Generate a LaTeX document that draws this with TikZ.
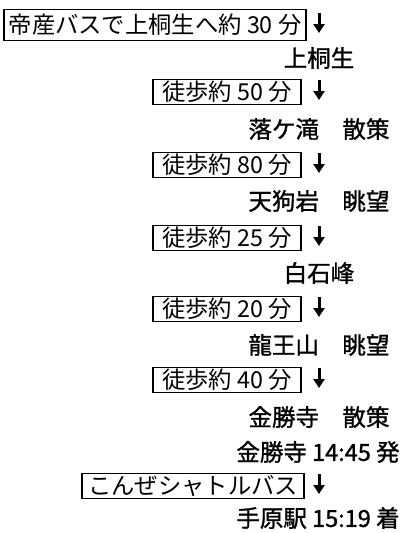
\documentclass[tikz,border=0pt]{standalone}
\usepackage{fontspec}
\setmainfont{Noto Sans CJK JP}
\newfontfamily\jpfont{Noto Sans CJK JP}
\newfontfamily\jpmedfont{Noto Sans CJK JP}[FakeBold=1.2]
\usetikzlibrary{arrows.meta,calc}
\begin{document}
\begin{tikzpicture}[x=1pt,y=-1pt,
  stepbox/.style={draw,line width=1.8pt,inner xsep=2pt,inner ysep=0pt,
    font=\jpfont\fontsize{23.3}{23.3}\selectfont,anchor=east,
    minimum width=148pt,minimum height=25pt},
  place/.style={font=\jpmedfont\fontsize{23.5}{23.5}\selectfont,inner sep=0pt,anchor=center},
  downarrow/.style={-{Triangle[length=9pt,width=11pt]},line width=3pt}]
\useasboundingbox (0,0) rectangle (411,533);
% boxes
\node[stepbox,minimum width=302pt,minimum height=31pt] (b1) at (307,25) {帝産バスで上桐生へ約 30 分};
\node[place] (s1) at (319,58) {上桐生};
\node[stepbox] (b2) at (302,92) {徒歩約 50 分};
\node[place] (s2) at (319,129) {落ケ滝　散策};
\node[stepbox] (b3) at (302,165) {徒歩約 80 分};
\node[place] (s3) at (319,201) {天狗岩　眺望};
\node[stepbox] (b4) at (302,238) {徒歩約 25 分};
\node[place] (s4) at (319,273) {白石峰};
\node[stepbox] (b5) at (302,309) {徒歩約 20 分};
\node[place] (s5) at (319,345) {龍王山　眺望};
\node[stepbox] (b6) at (302,380) {徒歩約 40 分};
\node[place] (s6) at (319,417) {金勝寺　散策};
\node[place] (s7) at (318,452) {金勝寺 14:45 発};
\node[stepbox,minimum width=222pt] (b7) at (305,486) {こんぜシャトルバス};
\node[place] (s8) at (318,518) {手原駅 15:19 着};
% arrows
\foreach \i/\y in {1/25,2/92,3/165,4/238,5/309,6/380,7/486}{
  \coordinate (t\i) at (319,\y-12);
  \coordinate (h\i) at (319,\y+8);
  \draw[downarrow] (t\i) -- (h\i);
}
\end{tikzpicture}
\end{document}
